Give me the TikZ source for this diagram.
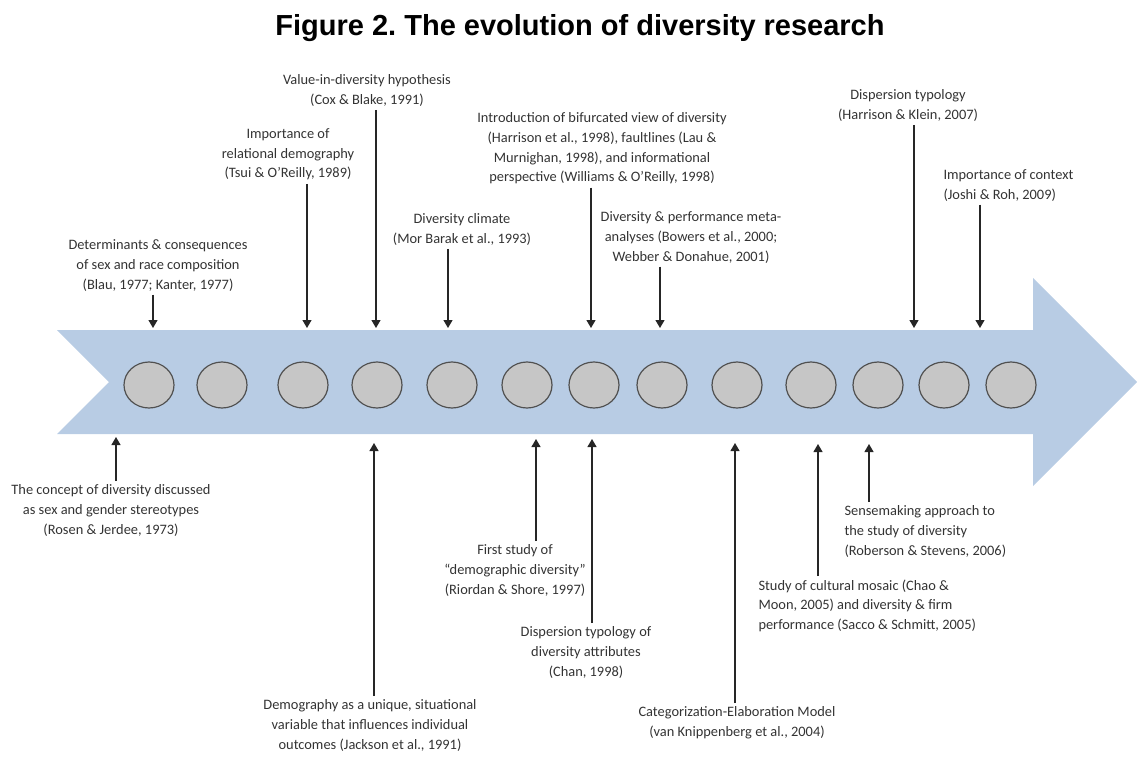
\documentclass[tikz,border=0pt]{standalone}
\usepackage{fontspec}
\setmainfont{Carlito}
\newfontfamily\titlefont{Liberation Sans}
\usepackage{tikz}
\usetikzlibrary{shapes.geometric}
\usetikzlibrary{arrows.meta}
\usepackage{xcolor}
\frenchspacing
\definecolor{bandblue}{HTML}{B8CCE4}
\definecolor{dotgray}{HTML}{C6C6C6}
\definecolor{rimgray}{HTML}{505050}
\definecolor{txtgray}{HTML}{333333}
\tikzset{x=1pt,y=-1pt,
      dot/.style={ellipse, draw=rimgray, line width=1.2pt, fill=dotgray,
      minimum width=50pt, minimum height=46pt, inner sep=0pt},
      note/.style={align=center, inner sep=0pt, outer sep=3.5pt, text=txtgray,
      font=\fontsize{14.4}{19.8}\selectfont},
      hint/.style={draw=black!85, line width=1.2pt,
      -{Triangle[length=8pt,width=9pt]}}}

\begin{document}
\begin{tikzpicture}
  \useasboundingbox (0,0) rectangle (1137,758);
  \node[font=\titlefont\bfseries\fontsize{29}{34}\selectfont] (title) at (580,28)
       {Figure 2. The evolution of diversity research};
  % the arrow band
  \fill[bandblue] (57,330) -- (1033,330) -- (1033,278) -- (1137,382)
       -- (1033,486) -- (1033,434) -- (57,434) -- (109,382) -- cycle;
  \foreach \cx [count=\i] in {149,222,303,377,452,527,594,662,737,811,878,944,1011}
       \node[dot] (c\i) at (\cx,385) {};
  % above the band
  \node[note, anchor=north] (blau) at (158,236)
       {Determinants \& consequences\\of sex and race composition\\(Blau, 1977; Kanter, 1977)};
  \node[note, anchor=north] (tsui) at (288,125)
       {Importance of\\relational demography\\(Tsui \& O'Reilly, 1989)};
  \node[note, anchor=north] (cox) at (367,71)
       {Value-in-diversity hypothesis\\(Cox \& Blake, 1991)};
  \node[note, anchor=north] (mor) at (462,210)
       {Diversity climate\\(Mor Barak et al., 1993)};
  \node[note, anchor=north] (harr) at (602,109)
       {Introduction of bifurcated view of diversity\\(Harrison et al., 1998), faultlines (Lau \&\\Murnighan, 1998), and informational\\perspective (Williams \& O'Reilly, 1998)};
  \node[note, anchor=north] (bowers) at (691,208)
       {Diversity \& performance meta-\\analyses (Bowers et al., 2000;\\Webber \& Donahue, 2001)};
  \node[note, anchor=north] (klein) at (908,86)
       {Dispersion typology\\(Harrison \& Klein, 2007)};
  \node[note, anchor=north west, align=left] (joshi) at (940,166)
       {Importance of context\\(Joshi \& Roh, 2009)};
  % below the band
  \node[note, anchor=north] (rosen) at (111,481)
       {The concept of diversity discussed\\as sex and gender stereotypes\\(Rosen \& Jerdee, 1973)};
  \node[note, anchor=north] (jackson) at (370,696)
       {Demography as a unique, situational\\variable that influences individual\\outcomes (Jackson et al., 1991)};
  \node[note, anchor=north] (riordan) at (515,541)
       {First study of\\``demographic diversity''\\(Riordan \& Shore, 1997)};
  \node[note, anchor=north] (chan) at (586,623)
       {Dispersion typology of\\diversity attributes\\(Chan, 1998)};
  \node[note, anchor=north] (knipp) at (737,703)
       {Categorization-Elaboration Model\\(van Knippenberg et al., 2004)};
  \node[note, anchor=north west, align=left] (chao) at (755,576)
       {Study of cultural mosaic (Chao \&\\Moon, 2005) and diversity \& firm\\performance (Sacco \& Schmitt, 2005)};
  \node[note, anchor=north west, align=left] (rober) at (841,502)
       {Sensemaking approach to\\the study of diversity\\(Roberson \& Stevens, 2006)};
  % arrow ends on the band
  \coordinate (eblau) at (153,328);
  \coordinate (etsui) at (307,328);
  \coordinate (ecox) at (376,328);
  \coordinate (emor) at (448,328);
  \coordinate (eharr) at (591,328);
  \coordinate (ebowers) at (660,328);
  \coordinate (eklein) at (914,328);
  \coordinate (ejoshi) at (980,328);
  \coordinate (erosen) at (116,437);
  \coordinate (ejackson) at (374,443);
  \coordinate (eriordan) at (536,439);
  \coordinate (echan) at (592,439);
  \coordinate (eknipp) at (735,443);
  \coordinate (echao) at (818,444);
  \coordinate (erober) at (869,444);
  \foreach \n in {blau,tsui,cox,mor,harr,bowers,klein,joshi}
       \draw[hint] (\n.south -| e\n) -- (e\n);
  \foreach \n in {rosen,jackson,riordan,chan,knipp,chao,rober}
       \draw[hint] (\n.north -| e\n) -- (e\n);
\end{tikzpicture}
\end{document}
